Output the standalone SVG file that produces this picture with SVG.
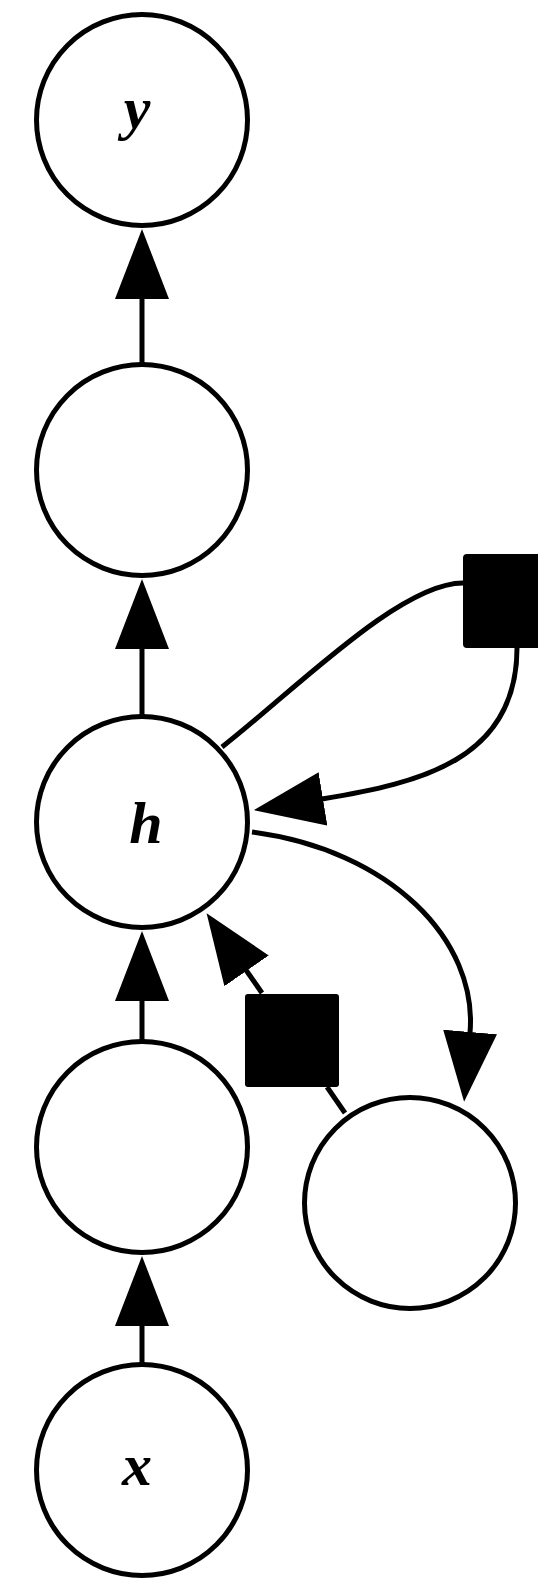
<svg xmlns="http://www.w3.org/2000/svg" width="538" height="1578" viewBox="0 0 538 1578">
<style>
.node{fill:#fff;stroke:#000;stroke-width:5}
.fac{fill:#000;stroke:none}
.edge{fill:none;stroke:#000;stroke-width:5}
.lbl{font-family:"Liberation Serif",serif;font-style:italic;font-weight:bold;font-size:60px;text-anchor:middle;fill:#000}
</style>
<defs>
<marker id="ah" markerUnits="userSpaceOnUse" markerWidth="70" markerHeight="56" viewBox="0 0 70 56" refX="1" refY="28" orient="auto">
<path d="M0,1 L70,28 L0,55 z" fill="#000"/>
</marker>
</defs>
<rect width="538" height="1578" fill="#fff"/>
<g id="connectors">
<path class="edge" d="M142,364 L142,298" marker-end="url(#ah)"/>
<path class="edge" d="M142,716 L142,648" marker-end="url(#ah)"/>
<path class="edge" d="M142,1041 L142,1000" marker-end="url(#ah)"/>
<path class="edge" d="M142,1364 L142,1325" marker-end="url(#ah)"/>
<path class="edge" d="M222,747 C295,690 400,583 463,583"/>
<path class="edge" d="M517,648 C517,760 420,783 322,799" marker-end="url(#ah)"/>
<path class="edge" d="M252,832 C390,850 478,940 470,1033" marker-end="url(#ah)"/>
<path class="edge" d="M262,993 L246,970" marker-end="url(#ah)"/>
<path class="edge" d="M345,1113 L327,1087"/>
</g>
<g id="node-y">
<circle class="node" cx="142" cy="120" r="105.5"/>
<text class="lbl" x="137" y="128">y</text>
</g>
<g id="node-2">
<circle class="node" cx="142" cy="470" r="105.5"/>
</g>
<g id="node-h">
<circle class="node" cx="142" cy="822" r="105.5"/>
<text class="lbl" x="146" y="843">h</text>
</g>
<g id="node-4">
<circle class="node" cx="142" cy="1147" r="105.5"/>
</g>
<g id="node-x">
<circle class="node" cx="142" cy="1470" r="105.5"/>
<text class="lbl" x="137" y="1485">x</text>
</g>
<g id="node-r">
<circle class="node" cx="410" cy="1203" r="105.5"/>
</g>
<g id="factor-top">
<rect class="fac" x="463" y="554" width="94" height="94" rx="4"/>
</g>
<g id="factor-mid">
<rect class="fac" x="245" y="994" width="94" height="93" rx="3"/>
</g>
</svg>
